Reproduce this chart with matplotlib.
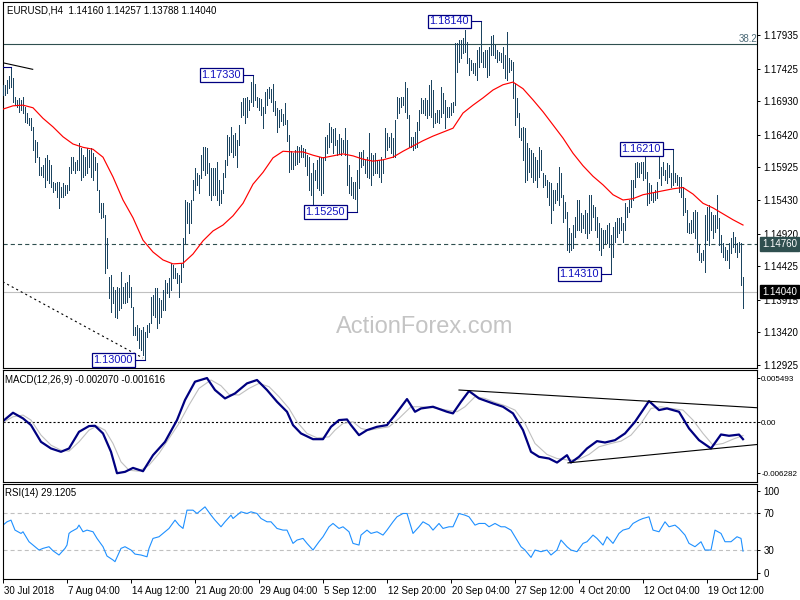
import matplotlib
matplotlib.use("Agg")
import matplotlib.pyplot as plt
import matplotlib.transforms as mtrans
import numpy as np

plt.rcParams['font.family'] = ['Liberation Sans', 'DejaVu Sans']
plt.rcParams['lines.scale_dashes'] = False

# ---------------- data ----------------
title = "EURUSD,H4  1.14160 1.14257 1.13788 1.14040"
PRICE_SCALE = 10000.0  # bar prices below are stored as price * 10000

bar_high = [
    11718, 11718, 11725, 11731, 11745, 11728, 11699, 11695, 11698, 11695,
    11699, 11684, 11675, 11667, 11667, 11654, 11634, 11631, 11608, 11593,
    11596, 11607, 11611, 11604, 11596, 11570, 11569, 11570, 11570, 11563,
    11569, 11566, 11566, 11593, 11608, 11608, 11601, 11604, 11630, 11622,
    11611, 11608, 11622, 11619, 11622, 11614, 11608, 11599, 11558, 11538,
    11538, 11520, 11485, 11426, 11429, 11411, 11406, 11411, 11409, 11434,
    11411, 11417, 11418, 11429, 11411, 11381, 11350, 11353, 11349, 11346,
    11350, 11343, 11353, 11356, 11396, 11399, 11409, 11409, 11394, 11391,
    11406, 11422, 11417, 11425, 11447, 11444, 11440, 11432, 11429, 11447,
    11485, 11543, 11540, 11538, 11543, 11573, 11592, 11584, 11581, 11611,
    11623, 11623, 11622, 11599, 11592, 11592, 11592, 11601, 11573, 11558,
    11584, 11604, 11642, 11639, 11654, 11642, 11645, 11634, 11657, 11692,
    11698, 11698, 11699, 11695, 11722, 11733, 11719, 11699, 11698, 11696,
    11684, 11707, 11711, 11714, 11711, 11719, 11693, 11683, 11680, 11681,
    11673, 11690, 11664, 11642, 11617, 11614, 11619, 11625, 11623, 11627,
    11622, 11620, 11611, 11608, 11584, 11599, 11589, 11604, 11608, 11607,
    11608, 11639, 11642, 11660, 11654, 11651, 11652, 11634, 11643, 11637,
    11634, 11652, 11634, 11596, 11578, 11570, 11570, 11589, 11616, 11616,
    11619, 11604, 11608, 11645, 11614, 11611, 11614, 11604, 11604, 11608,
    11604, 11652, 11645, 11639, 11645, 11637, 11665, 11699, 11698, 11699,
    11699, 11722, 11713, 11672, 11639, 11639, 11646, 11661, 11680, 11698,
    11695, 11698, 11695, 11718, 11725, 11710, 11675, 11680, 11680, 11715,
    11705, 11695, 11684, 11684, 11690, 11692, 11781, 11781, 11786, 11786,
    11789, 11801, 11783, 11759, 11756, 11751, 11751, 11771, 11775, 11814,
    11768, 11771, 11771, 11775, 11792, 11794, 11778, 11771, 11768, 11766,
    11775, 11763, 11798, 11759, 11756, 11752, 11721, 11698, 11675, 11652,
    11654, 11652, 11630, 11622, 11619, 11614, 11608, 11604, 11623, 11619,
    11584, 11581, 11573, 11570, 11569, 11558, 11558, 11569, 11593, 11584,
    11551, 11540, 11525, 11500, 11493, 11505, 11517, 11543, 11543, 11523,
    11520, 11528, 11523, 11551, 11551, 11535, 11532, 11517, 11508, 11500,
    11497, 11497, 11505, 11508, 11490, 11502, 11510, 11516, 11516, 11517,
    11508, 11538, 11532, 11543, 11573, 11573, 11599, 11601, 11599, 11601,
    11601, 11614, 11586, 11569, 11566, 11554, 11558, 11570, 11608, 11593,
    11601, 11589, 11599, 11596, 11584, 11621, 11584, 11581, 11578, 11578,
    11563, 11546, 11528, 11508, 11513, 11525, 11528, 11525, 11475, 11463,
    11467, 11520, 11532, 11535, 11525, 11520, 11520, 11551, 11516, 11490,
    11478, 11472, 11467, 11478, 11485, 11494, 11487, 11478, 11479, 11478,
    11426,
]
bar_low = [
    11702, 11702, 11705, 11713, 11714, 11692, 11687, 11684, 11677, 11680,
    11675, 11661, 11660, 11657, 11649, 11619, 11601, 11608, 11581, 11581,
    11578, 11563, 11573, 11569, 11563, 11555, 11558, 11548, 11531, 11548,
    11548, 11551, 11554, 11558, 11584, 11589, 11584, 11589, 11589, 11573,
    11578, 11581, 11584, 11593, 11578, 11573, 11589, 11558, 11525, 11516,
    11517, 11432, 11440, 11394, 11373, 11387, 11365, 11364, 11376, 11379,
    11387, 11387, 11388, 11396, 11381, 11338, 11338, 11330, 11318, 11315,
    11308, 11300, 11335, 11343, 11356, 11368, 11365, 11349, 11356, 11365,
    11376, 11376, 11402, 11396, 11406, 11425, 11425, 11417, 11396, 11418,
    11441, 11478, 11508, 11493, 11508, 11543, 11558, 11566, 11554, 11576,
    11589, 11581, 11584, 11551, 11543, 11551, 11551, 11543, 11535, 11538,
    11554, 11578, 11596, 11611, 11616, 11608, 11611, 11593, 11627, 11669,
    11672, 11660, 11669, 11680, 11692, 11686, 11695, 11684, 11680, 11672,
    11652, 11675, 11687, 11698, 11692, 11678, 11672, 11646, 11654, 11663,
    11657, 11658, 11633, 11586, 11590, 11590, 11596, 11598, 11601, 11608,
    11608, 11595, 11581, 11558, 11551, 11532, 11573, 11561, 11558, 11551,
    11554, 11604, 11614, 11623, 11631, 11614, 11627, 11611, 11614, 11611,
    11616, 11611, 11566, 11554, 11551, 11546, 11545, 11525, 11561, 11593,
    11596, 11584, 11578, 11576, 11566, 11581, 11584, 11584, 11578, 11570,
    11584, 11608, 11619, 11624, 11614, 11608, 11608, 11667, 11675, 11684,
    11687, 11677, 11667, 11624, 11624, 11619, 11622, 11624, 11649, 11675,
    11675, 11672, 11667, 11672, 11669, 11654, 11660, 11661, 11660, 11669,
    11675, 11652, 11669, 11669, 11672, 11677, 11687, 11737, 11752, 11759,
    11766, 11768, 11751, 11733, 11740, 11736, 11733, 11725, 11745, 11752,
    11745, 11745, 11730, 11733, 11763, 11763, 11759, 11752, 11756, 11752,
    11743, 11728, 11725, 11737, 11740, 11698, 11657, 11669, 11639, 11634,
    11604, 11570, 11573, 11586, 11578, 11570, 11573, 11563, 11578, 11589,
    11563, 11566, 11548, 11535, 11508, 11528, 11538, 11543, 11535, 11548,
    11510, 11516, 11467, 11464, 11467, 11470, 11487, 11497, 11497, 11494,
    11500, 11493, 11485, 11493, 11497, 11517, 11497, 11487, 11467, 11460,
    11470, 11478, 11478, 11472, 11431, 11457, 11479, 11487, 11493, 11497,
    11479, 11497, 11517, 11525, 11532, 11543, 11563, 11578, 11578, 11584,
    11573, 11576, 11535, 11538, 11543, 11540, 11543, 11546, 11576, 11566,
    11581, 11573, 11569, 11578, 11563, 11566, 11570, 11566, 11555, 11548,
    11520, 11525, 11494, 11493, 11493, 11494, 11485, 11464, 11452, 11449,
    11452, 11434, 11482, 11475, 11497, 11485, 11494, 11500, 11475, 11464,
    11457, 11452, 11452, 11440, 11463, 11472, 11464, 11457, 11464, 11414,
    11379,
]

# moving average (red), every 5th bar
ma_idx = list(range(0, 371, 5))
ma_price = [
    11681, 11686, 11687, 11683, 11667, 11654, 11639, 11628, 11623, 11620,
    11608, 11578, 11543, 11516, 11482, 11464, 11452, 11446, 11447, 11461,
    11481, 11496, 11505, 11519, 11538, 11567, 11585, 11607, 11617, 11616,
    11616, 11611, 11607, 11610, 11613, 11610, 11605, 11602, 11604, 11608,
    11617, 11625, 11633, 11640, 11646, 11652, 11675, 11687, 11698, 11710,
    11718, 11722, 11712, 11695, 11677, 11657, 11637, 11614, 11595, 11579,
    11566, 11551, 11543, 11545, 11551, 11554, 11557, 11560, 11562, 11552,
    11538, 11531, 11522, 11513, 11505,
]

# MACD(12,26,9)
macd_idx = [0, 5, 10, 14, 19, 24, 29, 33, 38, 43, 46, 50, 54, 57, 61, 65, 70, 75, 81, 87,
            91, 96, 102, 106, 111, 116, 122, 127, 132, 137, 142, 145, 149, 155, 160, 164, 168, 172, 174, 178,
            182, 187, 192, 196, 202, 206, 209, 215, 222, 225, 229, 233, 238, 245, 250, 255, 260, 264, 268, 273,
            277, 282, 284, 288, 292, 297, 301, 306, 311, 316, 323, 328, 332, 338, 343, 348, 354, 359, 363, 368, 370]
macd_main = [0.00017, 0.00120, 0.00050, -0.00033, -0.00240, -0.00322, -0.00363, -0.00322, -0.00116, -0.00045,
             -0.00041, -0.00136, -0.00363, -0.00628, -0.00611, -0.00562, -0.00603, -0.00405, -0.00240, 0.00029,
             0.00277, 0.00504, 0.00549, 0.00401, 0.00297, 0.00359, 0.00483, 0.00525, 0.00401, 0.00256,
             0.00132, -0.00033, -0.00136, -0.00207, -0.00207, -0.00054, 0.00029, 0.00037, -0.00033, -0.00157,
             -0.00095, -0.00054, -0.00033, 0.00091, 0.00289, 0.00132, 0.00173, 0.00194, 0.00132, 0.00112,
             0.00256, 0.00388, 0.00297, 0.00235, 0.00194, 0.00112, -0.00095, -0.00363, -0.00425, -0.00446,
             -0.00496, -0.00405, -0.00496, -0.00425, -0.00322, -0.00231, -0.00248, -0.00219, -0.00136, 0.00008,
             0.00264, 0.00153, 0.00173, 0.00132, -0.00074, -0.00219, -0.00322, -0.00149, -0.00165, -0.00150,
             -0.00207]
sig_idx = [0, 5, 10, 14, 19, 24, 29, 33, 38, 43, 47, 51, 55, 59, 63, 68, 73, 78, 83, 88,
           93, 98, 104, 109, 113, 118, 123, 128, 133, 138, 143, 147, 152, 157, 163, 166, 170, 175, 179, 183,
           188, 193, 198, 204, 209, 215, 222, 227, 231, 236, 241, 246, 251, 256, 261, 266, 272, 277, 283, 288,
           293, 298, 304, 309, 314, 319, 324, 329, 334, 340, 345, 350, 355, 360, 365, 370]
macd_signal = [0.00000, 0.00070, 0.00091, 0.00029, -0.00157, -0.00281, -0.00343, -0.00355, -0.00240, -0.00095,
               -0.00045, -0.00095, -0.00260, -0.00487, -0.00591, -0.00603, -0.00529, -0.00384, -0.00198, -0.00012,
               0.00215, 0.00421, 0.00525, 0.00454, 0.00347, 0.00339, 0.00421, 0.00483, 0.00442, 0.00318,
               0.00173, 0.00008, -0.00136, -0.00190, -0.00178, -0.00095, -0.00012, 0.00008, -0.00074, -0.00095,
               -0.00074, -0.00054, 0.00050, 0.00194, 0.00194, 0.00182, 0.00153, 0.00132, 0.00194, 0.00318,
               0.00297, 0.00248, 0.00207, 0.00153, -0.00012, -0.00260, -0.00396, -0.00446, -0.00467, -0.00454,
               -0.00396, -0.00301, -0.00260, -0.00231, -0.00157, -0.00012, 0.00173, 0.00194, 0.00173, 0.00153,
               0.00029, -0.00136, -0.00281, -0.00260, -0.00207, -0.00162]

# RSI(14)
rsi_idx = [0, 2, 4, 6, 9, 10, 13, 15, 18, 20, 23, 25, 28, 31, 32, 33, 34, 37, 38, 40,
           42, 45, 47, 50, 52, 55, 56, 59, 61, 64, 66, 69, 72, 73, 75, 78, 81, 83, 86, 88,
           90, 92, 95, 97, 100, 101, 104, 106, 109, 111, 114, 115, 118, 119, 122, 124, 127, 129, 132, 134,
           137, 140, 142, 145, 147, 150, 152, 155, 158, 160, 163, 165, 168, 170, 173, 175, 178, 179, 182, 184,
           187, 190, 192, 195, 197, 200, 202, 205, 208, 210, 213, 215, 218, 220, 223, 225, 228, 231, 233, 236,
           238, 241, 243, 246, 249, 251, 254, 256, 259, 261, 264, 266, 269, 272, 274, 277, 279, 282, 284, 287,
           290, 292, 295, 297, 300, 302, 305, 308, 310, 313, 315, 318, 320, 323, 325, 328, 331, 333, 336, 338,
           341, 343, 346, 349, 351, 354, 356, 359, 361, 364, 367, 369, 370]
rsi_vals = [57.3, 60.9, 62.7, 51.9, 48.3, 50.1, 39.3, 35.7, 30.3, 32.1, 33.9, 29.5, 24.9, 32.1, 35.7, 48.3, 50.1, 53.7, 57.3, 50.1,
            51.9, 50.1, 42.9, 33.9, 23.8, 19.5, 17.7, 32.1, 33.9, 30.3, 25.9, 24.9, 23.0, 32.1, 42.9, 44.7, 50.1, 53.7, 62.7, 57.3,
            53.7, 73.5, 73.5, 69.9, 75.3, 77.1, 68.1, 62.7, 55.5, 60.9, 68.1, 64.5, 69.9, 71.7, 69.9, 71.7, 69.9, 64.5, 60.9, 60.9,
            53.7, 51.9, 51.9, 37.5, 41.1, 42.9, 37.5, 30.3, 39.3, 44.7, 55.5, 59.1, 53.7, 55.5, 50.1, 37.5, 35.7, 46.5, 51.9, 48.3,
            50.1, 46.5, 51.9, 60.9, 66.3, 69.9, 69.9, 48.3, 55.5, 60.9, 57.3, 51.9, 59.1, 53.7, 55.5, 55.5, 69.9, 68.1, 66.3, 57.3,
            59.1, 59.1, 55.5, 59.1, 55.5, 55.5, 51.9, 44.7, 33.9, 30.3, 22.3, 30.3, 28.5, 30.3, 24.9, 30.3, 41.1, 33.9, 30.3, 28.5,
            37.5, 39.3, 46.5, 42.9, 35.7, 44.7, 37.5, 48.3, 51.9, 53.7, 59.1, 62.7, 64.5, 66.3, 51.9, 50.1, 60.9, 55.5, 57.3, 53.7,
            46.5, 37.5, 33.9, 39.3, 30.3, 30.3, 51.9, 48.3, 39.3, 39.3, 44.7, 42.9, 29.1]

date_idx = [0, 32, 64, 96, 128, 160, 192, 224, 256, 288, 320, 352]
date_labels = ["30 Jul 2018", "7 Aug 04:00", "14 Aug 12:00", "21 Aug 20:00", "29 Aug 04:00",
               "5 Sep 12:00", "12 Sep 20:00", "20 Sep 04:00", "27 Sep 12:00", "4 Oct 20:00",
               "12 Oct 04:00", "19 Oct 12:00"]

price_ticks = [1.17935, 1.17425, 1.16930, 1.16420, 1.15925, 1.15430, 1.14920,
               1.14425, 1.13915, 1.13420, 1.12925]
macd_ticks = [0.005493, 0.0, -0.006282]
macd_tick_labels = ["0.005493", "0.00", "-0.006282"]
rsi_tick_pos = [94.4, 70, 30, 5.1]
rsi_tick_labels = ["100", "70", "30", "0"]

swing_idx = [71, 125, 177, 239, 304, 335]
swing_price = [1.13000, 1.17330, 1.15250, 1.18140, 1.14310, 1.16210]
offscreen_label_idx = 4
offscreen_label_price = 1.17454

fib_level = 1.17798
fib_text = "38.2"
dashed_level = 1.14760
bid_level = 1.14040

trend_top = ([-0.15, 14.85], [1.17514, 1.17414])
trend_dotted = ([-0.15, 70.0], [1.14189, 1.13031])
macd_trend_upper = ([228, 377], [0.00401, 0.00182])
macd_trend_lower = ([282.5, 377], [-0.00500, -0.00273])

# ---------------- style ----------------
BAR_C = "#1b4460"
NAVY = "#000080"
SLATE = "#2F4F4F"
FS = 7

W, H = 800, 600
fig = plt.figure(figsize=(8, 6), dpi=100)
fig.patch.set_facecolor("white")


def px_axes(x0, y0, x1, y1):
    return fig.add_axes([x0 / W, 1 - y1 / H, (x1 - x0) / W, (y1 - y0) / H])


ax = px_axes(2.5, 2, 757, 368)
axm = px_axes(2.5, 370, 757, 482)
axr = px_axes(2.5, 483.5, 757, 578.7)
XL = (-0.25, 377.0)

for a in (ax, axm, axr):
    a.set_xlim(*XL)
    for s in a.spines.values():
        s.set_linewidth(0.8)
        s.set_color("black")
    a.yaxis.tick_right()
    a.tick_params(axis="y", which="both", direction="out", length=2.5, width=0.7,
                  pad=2, labelsize=FS, right=True, left=False, labelright=True, labelleft=False)
    a.tick_params(axis="x", bottom=False, labelbottom=False)

# ---- main price panel ----
ax.set_ylim(1.128794, 1.184360)
n = min(len(bar_high), len(bar_low))
idx = np.arange(n)
hi = np.array(bar_high[:n]) / PRICE_SCALE
lo = np.array(bar_low[:n]) / PRICE_SCALE
ax.vlines(idx, lo, hi, colors=BAR_C, linewidth=0.5, antialiased=False, zorder=3)
ax.plot(ma_idx, np.array(ma_price) / PRICE_SCALE, color="#FF0000", lw=0.85, zorder=4)

ax.axhline(fib_level, color=SLATE, lw=0.8, zorder=2)
ax.text(1.0, fib_level, fib_text, transform=mtrans.blended_transform_factory(ax.transAxes, ax.transData),
        ha="right", va="bottom", fontsize=FS, color="#4d6b78")
ax.axhline(dashed_level, color=SLATE, lw=0.8, dashes=(3.0, 2.2), zorder=2)
ax.axhline(bid_level, color="#C0C0C0", lw=0.8, zorder=2)

ax.plot(*trend_top, color="black", lw=0.8, zorder=4)
ax.plot(*trend_dotted, color="black", lw=0.8, dashes=(1.5, 2.2), zorder=4)

ax.set_yticks(price_ticks)
ax.set_yticklabels([f"{v:.5f}" for v in price_ticks])

for i, p in zip(swing_idx, swing_price):
    ax.plot([i - 5, i], [p, p], color=NAVY, lw=0.8, zorder=5)
    ax.annotate(f"{p:.5f}", xy=(i - 5, p), xytext=(-2, 0), textcoords="offset pixels",
                ha="right", va="center", fontsize=7.8, color="#1010C0", zorder=6,
                bbox=dict(boxstyle="square,pad=0.18", fc="white", ec=NAVY, lw=0.9))
ax.plot([XL[0], offscreen_label_idx], [offscreen_label_price] * 2, color=NAVY, lw=0.8, zorder=5)

ax.text(0.006, 0.977, title, transform=ax.transAxes, ha="left", va="center", fontsize=FS, color="black")
ax.text(0.56, 0.112, "ActionForex.com", transform=ax.transAxes, ha="center", va="center",
        fontsize=17, color="#C4C4C4", zorder=1)

ax.annotate(f"{dashed_level:.5f}", xy=(1, dashed_level), xycoords=("axes fraction", "data"),
            xytext=(5, 0), textcoords="offset pixels", ha="left", va="center", fontsize=FS,
            color="white", annotation_clip=False, zorder=10,
            bbox=dict(boxstyle="square,pad=0.18", fc=SLATE, ec=SLATE))
ax.annotate(f"{bid_level:.5f}", xy=(1, bid_level), xycoords=("axes fraction", "data"),
            xytext=(5, 0), textcoords="offset pixels", ha="left", va="center", fontsize=FS,
            color="white", annotation_clip=False, zorder=10,
            bbox=dict(boxstyle="square,pad=0.18", fc="black", ec="black"))

# ---- MACD panel ----
axm.set_ylim(-0.007365, 0.006485)
axm.axhline(0, color="black", lw=0.8, dashes=(1.5, 1.5))
axm.plot(sig_idx, macd_signal, color="#C0C0C0", lw=0.8)
axm.plot(macd_idx, macd_main, color=NAVY, lw=1.6)
axm.plot(*macd_trend_upper, color="black", lw=0.8)
axm.plot(*macd_trend_lower, color="black", lw=0.8)
axm.set_yticks(macd_ticks)
axm.set_yticklabels(macd_tick_labels)
axm.tick_params(axis="y", labelsize=5.8, pad=1.0, length=2)
axm.text(0.0033, 0.91, "MACD(12,26,9) -0.002070 -0.001616", transform=axm.transAxes,
         ha="left", va="center", fontsize=FS)

# ---- RSI panel ----
axr.set_ylim(-0.76, 102.4)
axr.axhline(70, color="#C0C0C0", lw=0.8, dashes=(2.9, 2.2))
axr.axhline(30, color="#C0C0C0", lw=0.8, dashes=(2.9, 2.2))
axr.plot(rsi_idx, rsi_vals, color="#1E90FF", lw=0.8)
axr.set_yticks(rsi_tick_pos)
axr.set_yticklabels(rsi_tick_labels)
axr.text(0.0033, 0.895, "RSI(14) 29.1205", transform=axr.transAxes, ha="left", va="center", fontsize=FS)

axr.set_xticks(date_idx)
axr.set_xticklabels(date_labels)
axr.tick_params(axis="x", bottom=True, labelbottom=True, direction="out", length=3, width=0.7,
                pad=2.5, labelsize=FS)
shift = mtrans.ScaledTranslation(1.0 / 100, 0, fig.dpi_scale_trans)
for lab in axr.get_xticklabels():
    lab.set_horizontalalignment("left")
    lab.set_transform(lab.get_transform() + shift)

fig.savefig("out.png", dpi=100, facecolor="white")
